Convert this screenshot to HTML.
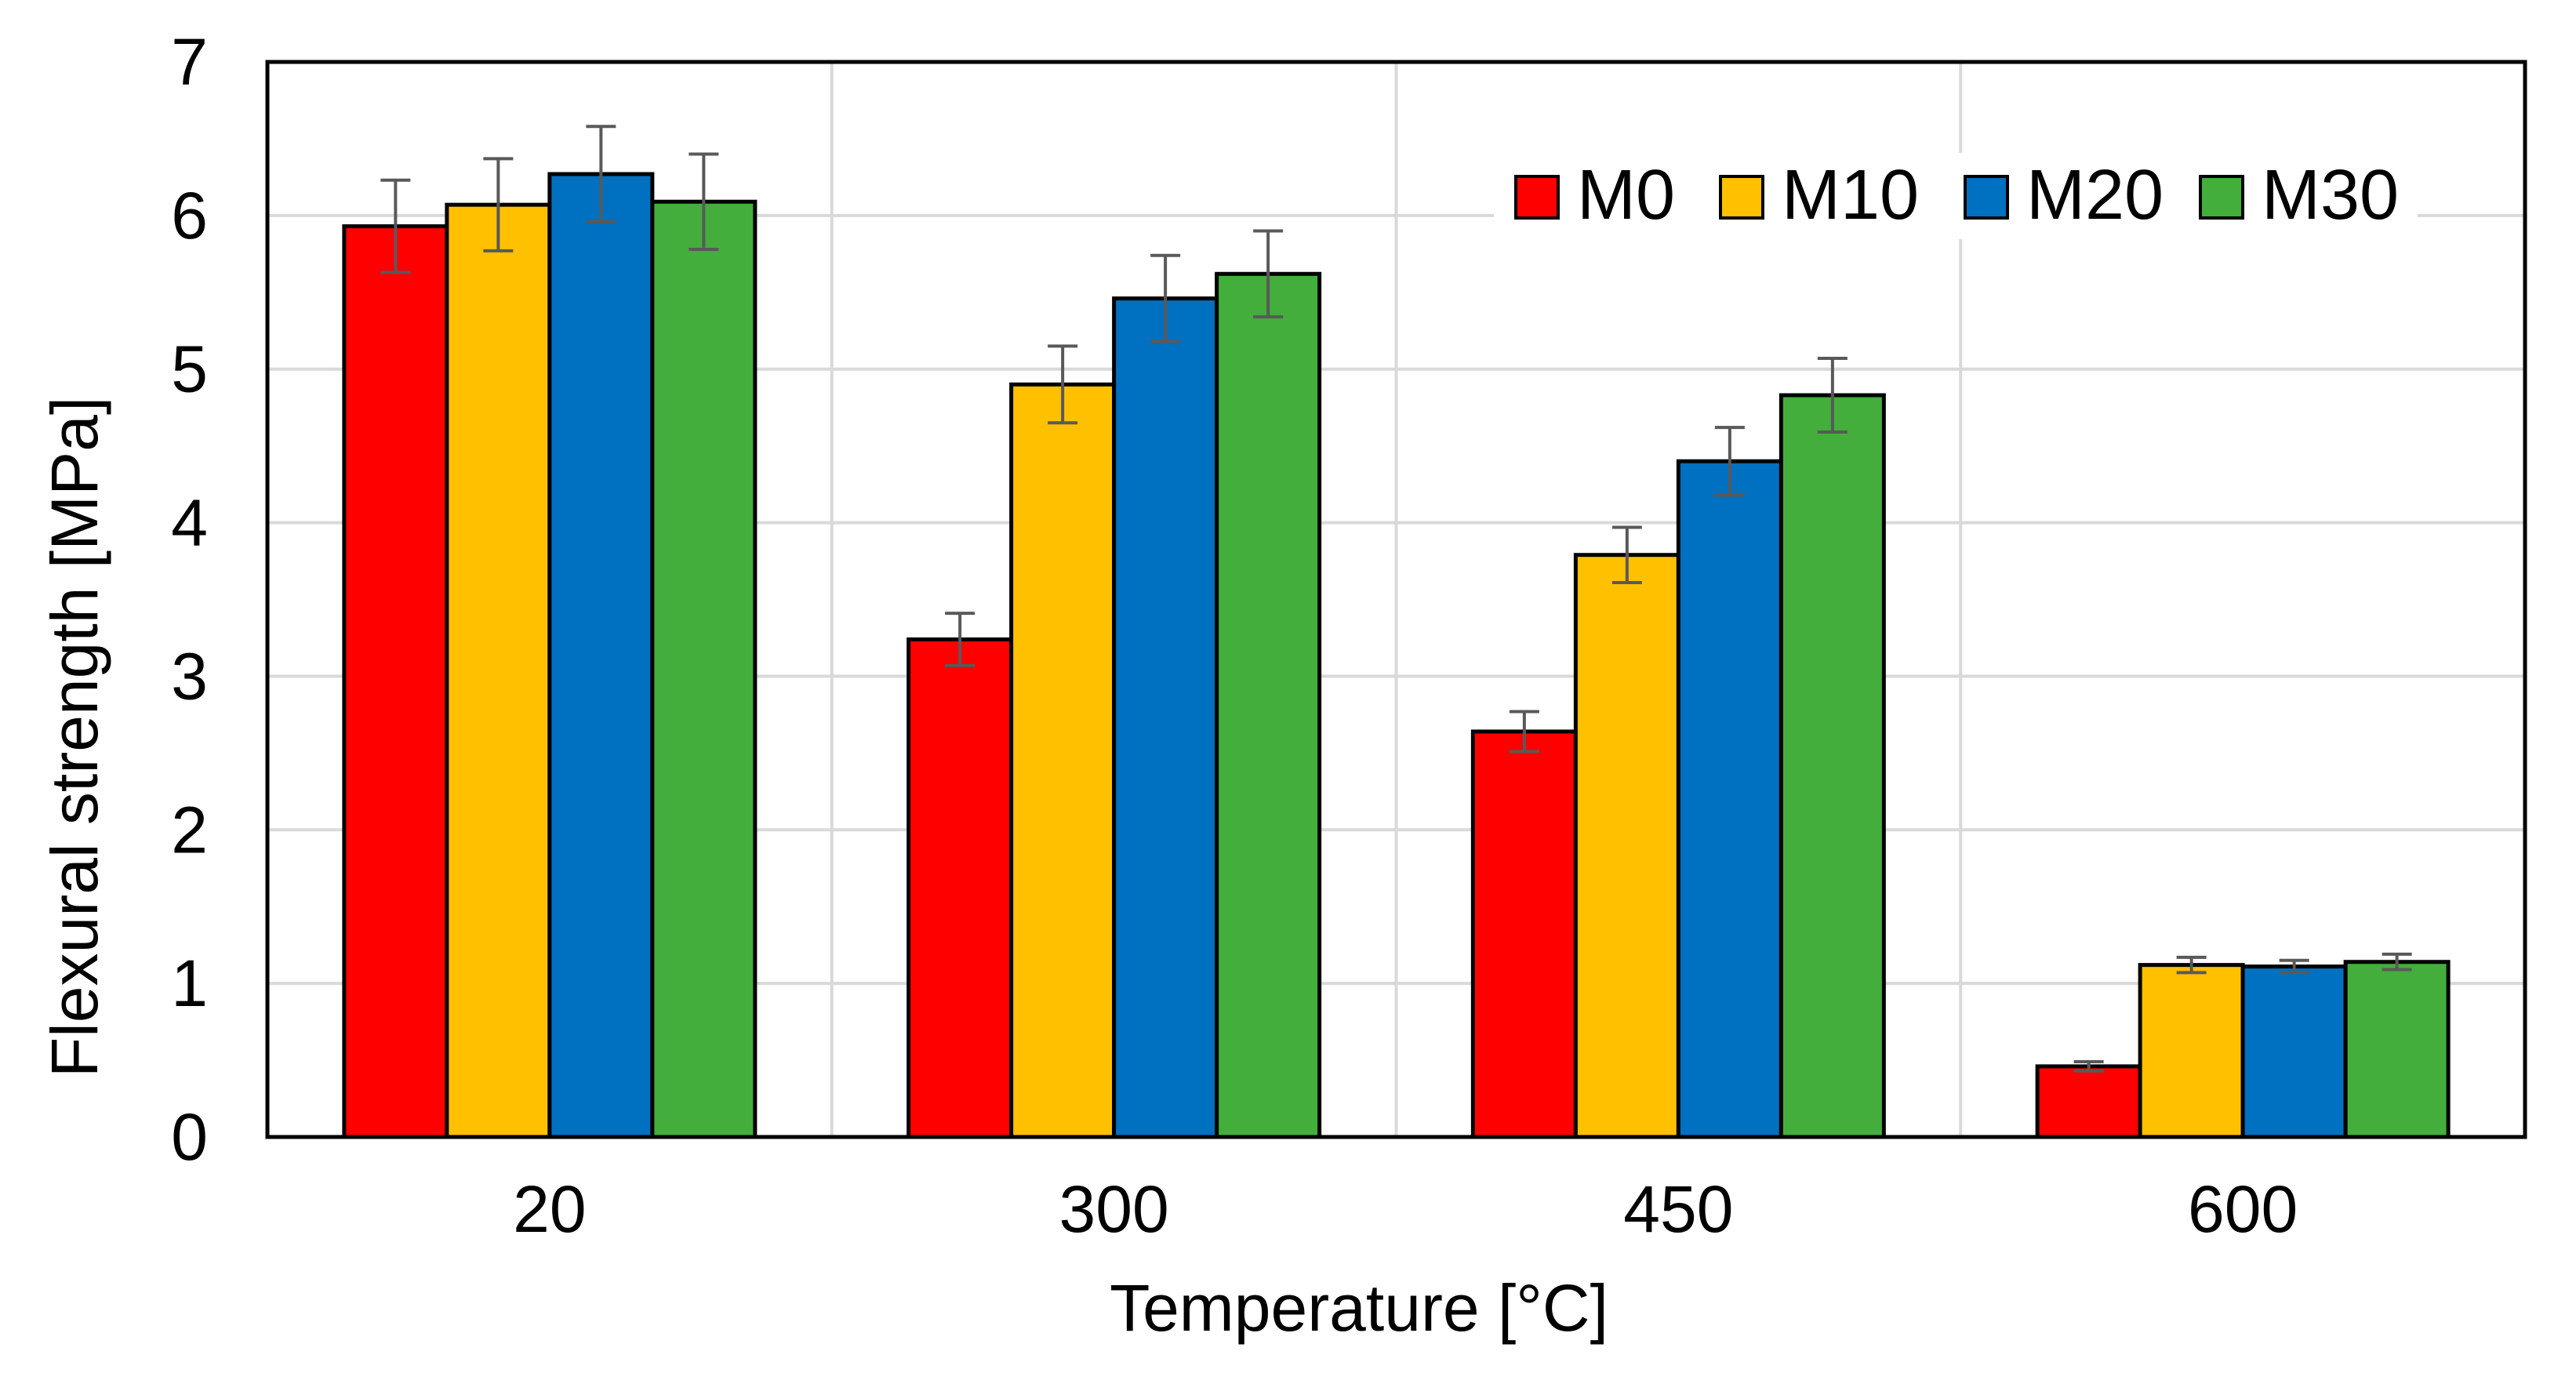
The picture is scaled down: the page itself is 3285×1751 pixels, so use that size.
<!DOCTYPE html>
<html><head><meta charset="utf-8"><style>
html,body{margin:0;padding:0;background:#fff;}
svg{display:block;font-family:"Liberation Sans",Arial,sans-serif;}
</style></head><body>
<svg id="chart" width="3285" height="1751" viewBox="0 0 3285 1751" xmlns="http://www.w3.org/2000/svg">
<g id="grid"></g><g id="bars"></g><g id="errs"></g>
<rect x="1905" y="195" width="1178" height="110" fill="#fff"/>
<g id="legend"></g>
<rect x="341" y="79" width="2879" height="1371" fill="none" stroke="#000" stroke-width="5"/>
<g id="ticks"></g>
<text x="1733" y="1697" font-size="84" text-anchor="middle">Temperature [°C]</text>
<text transform="translate(124,940) rotate(-90)" font-size="84" text-anchor="middle">Flexural strength [MPa]</text>
</svg>
<script>
const categories = ["20","300","450","600"];
const seriesNames = ["M0","M10","M20","M30"];
const seriesColors = ["#ff0000","#ffc000","#0070c0","#43ae3b"];
const m0 = [5.93, 3.24, 2.64, 0.46];
const m10 = [6.07, 4.90, 3.79, 1.12];
const m20 = [6.27, 5.46, 4.40, 1.11];
const m30 = [6.09, 5.62, 4.83, 1.14];
const m0Err = [0.30, 0.17, 0.13, 0.03];
const m10Err = [0.30, 0.25, 0.18, 0.05];
const m20Err = [0.31, 0.28, 0.22, 0.04];
const m30Err = [0.31, 0.28, 0.24, 0.05];
const yTicks = [0,1,2,3,4,5,6,7];

const NS="http://www.w3.org/2000/svg";
const L=341,R=3220,T=79,B=1450,yMax=7;
const y=v=>B-(v/yMax)*(B-T);
const catW=(R-L)/categories.length;
const xc=i=>L+catW*(i+0.5);
const barW=131;
function mk(tag,parent,attrs){const e=document.createElementNS(NS,tag);for(const k in attrs)e.setAttribute(k,attrs[k]);document.getElementById(parent).appendChild(e);return e;}
yTicks.forEach(t=>{
  if(t>0&&t<7){const g=mk('line','grid',{x1:L,x2:R,y1:y(t),y2:y(t),stroke:'#d9d9d9','stroke-width':4});
  
  }
  const tx=mk('text','ticks',{x:265,y:y(t)+29,'font-size':84,'text-anchor':'end'});
  tx.textContent=t;
  
  
});
for(let i=1;i<categories.length;i++){
  const g=mk('line','grid',{x1:L+catW*i,x2:L+catW*i,y1:T,y2:B,stroke:'#d9d9d9','stroke-width':4});
  
  
}
const vals=[m0,m10,m20,m30], errs=[m0Err,m10Err,m20Err,m30Err];
categories.forEach((c,i)=>{
  const tx=mk('text','ticks',{x:xc(i),y:1571,'font-size':84,'text-anchor':'middle'});
  tx.textContent=c;
  
  
  vals.forEach((s,j)=>{
    const x0=xc(i)-2*barW+j*barW;
    const r=mk('rect','bars',{x:x0,y:y(s[i]),width:barW,height:B-y(s[i]),fill:seriesColors[j],stroke:'#000','stroke-width':5});
    
    
    const cx=x0+barW/2, hi=y(s[i]+errs[j][i]), lo=y(s[i]-errs[j][i]);
    const e=mk('path','errs',{d:`M${cx},${hi}V${lo}M${cx-19},${hi}H${cx+19}M${cx-19},${lo}H${cx+19}`,stroke:'#595959','stroke-width':4,fill:'none'});
    
    
  });
});
const legX=[1933,2194,2506,2806];
seriesNames.forEach((n,j)=>{
  const s=mk('rect','legend',{x:legX[j],y:225,width:54,height:53,fill:seriesColors[j],stroke:'#000','stroke-width':4});
  
  
  const t=mk('text','legend',{x:legX[j]+78,y:279,'font-size':90});
  t.textContent=n;
  
  
});
</script>
</body></html>
